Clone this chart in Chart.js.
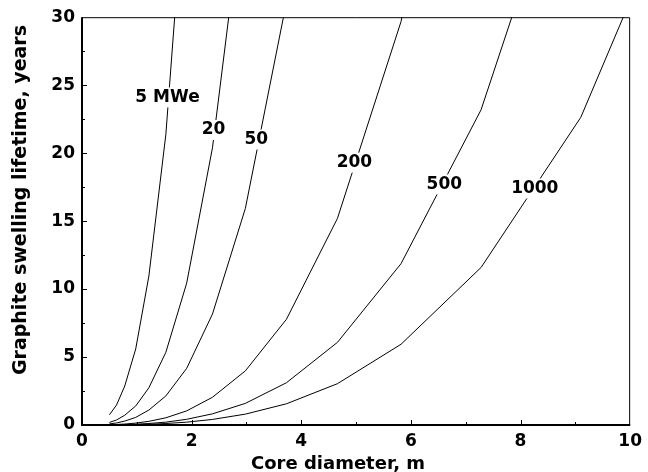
<!DOCTYPE html>
<html>
<head>
<meta charset="utf-8">
<script src="https://cdn.jsdelivr.net/npm/chart.js@4.4.0/dist/chart.umd.min.js"></script>
<style>
  html, body { margin: 0; padding: 0; background: #fff; }
  #wrap { width: 648px; height: 472px; }
</style>
</head>
<body>
<div id="wrap"><canvas id="chart"></canvas></div>
<script>
// core diameter grid (m), shared by all curves
const diameters = [0.5, 0.63, 0.78, 0.98, 1.22, 1.53, 1.91, 2.38, 2.98, 3.73, 4.66, 5.82, 7.28, 9.10, 11.37];

// graphite swelling lifetime (years)
const life5 = [0.75, 1.47, 2.87, 5.60, 10.96, 21.39, 41.75];
const life20 = [0.19, 0.37, 0.72, 1.40, 2.74, 5.35, 10.44, 20.39, 39.82];
const life50 = [0.08, 0.15, 0.29, 0.56, 1.10, 2.14, 4.17, 8.16, 15.93, 31.12];
const life200 = [0.02, 0.04, 0.07, 0.14, 0.27, 0.53, 1.04, 2.04, 3.98, 7.78, 15.20, 29.68, 57.97];
const life500 = [0.01, 0.01, 0.03, 0.06, 0.11, 0.21, 0.42, 0.82, 1.59, 3.11, 6.08, 11.87, 23.19, 45.29];
const life1000 = [0.00, 0.01, 0.01, 0.03, 0.05, 0.11, 0.21, 0.41, 0.80, 1.56, 3.04, 5.94, 11.59, 22.64, 44.24];

const curveLabels = ['5 MWe', '20', '50', '200', '500', '1000'];
// where each curve label sits (data coords)
const labelX = [1.56, 2.40, 3.18, 4.97, 6.61, 8.26];
const labelY = [24.1, 21.7, 21.0, 19.3, 17.7, 17.4];

const xTicks = [0, 2, 4, 6, 8, 10];
const yTicks = [0, 5, 10, 15, 20, 25, 30];

const xTitle = 'Core diameter, m';
const yTitle = 'Graphite swelling lifetime, years';

const series = [life5, life20, life50, life200, life500, life1000];

const datasets = series.map((ys, i) => ({
    label: curveLabels[i],
    data: ys.map((y, j) => ({ x: diameters[j], y })),
    borderColor: '#000',
    borderWidth: 1,
    pointRadius: 0,
    tension: 0,
    fill: false
}));

const FONT = "'DejaVu Sans', Arial, sans-serif";

// frame, inside ticks, axis titles and curve labels
const decor = {
    id: 'decor',
    afterDatasetsDraw(chart) {
        const { ctx, chartArea: a, scales: { x, y } } = chart;
        ctx.save();

        // curve labels with white background
        ctx.font = "bold 17px " + FONT;
        ctx.textAlign = 'center';
        ctx.textBaseline = 'middle';
        curveLabels.forEach((t, i) => {
            const px = x.getPixelForValue(labelX[i]);
            const py = y.getPixelForValue(labelY[i]);
            const w = ctx.measureText(t).width;
            ctx.fillStyle = '#fff';
            ctx.fillRect(px - w / 2 - 2, py - 10, w + 4, 20);
            ctx.fillStyle = '#000';
            ctx.fillText(t, px, py);
        });

        // axis titles (sit a little off-centre in the original)
        ctx.font = "bold 18px " + FONT;
        ctx.fillText(xTitle, 338, 464);
        ctx.save();
        ctx.translate(21, 200);
        ctx.rotate(-Math.PI / 2);
        ctx.font = "bold 19px " + FONT;
        ctx.fillText(yTitle, 0, 0);
        ctx.restore();

        // frame
        ctx.strokeStyle = '#000';
        ctx.lineWidth = 1;
        ctx.beginPath();
        ctx.moveTo(a.left, a.top + 0.5);
        ctx.lineTo(a.right - 0.5, a.top + 0.5);
        ctx.lineTo(a.right - 0.5, a.bottom);
        ctx.stroke();
        ctx.lineWidth = 2;
        ctx.beginPath();
        ctx.moveTo(a.left, a.top);
        ctx.lineTo(a.left, a.bottom);
        ctx.lineTo(a.right, a.bottom);
        ctx.stroke();

        // inside ticks
        ctx.lineWidth = 1;
        ctx.beginPath();
        for (let v = 1; v < 10; v++) {
            const px = Math.round(x.getPixelForValue(v)) + 0.5;
            const len = v % 2 === 0 ? 5 : 3;
            ctx.moveTo(px, a.bottom);
            ctx.lineTo(px, a.bottom - len);
        }
        for (let v = 2.5; v < 30; v += 2.5) {
            const py = Math.round(y.getPixelForValue(v)) + 0.5;
            const len = v % 5 === 0 ? 5 : 3;
            ctx.moveTo(a.left, py);
            ctx.lineTo(a.left + len, py);
        }
        ctx.stroke();
        ctx.restore();
    }
};

new Chart(document.getElementById('chart'), {
    type: 'line',
    data: { datasets },
    options: {
        responsive: true,
        maintainAspectRatio: false,
        animation: false,
        devicePixelRatio: 1,
        layout: { padding: { left: 0, right: 15, top: 15, bottom: 0 } },
        plugins: {
            legend: { display: false },
            tooltip: { enabled: false }
        },
        scales: {
            x: {
                type: 'linear',
                min: 0,
                max: 10,
                afterBuildTicks: (s) => { s.ticks = xTicks.map(v => ({ value: v })); },
                afterFit: (s) => { s.height = 47; },
                grid: { display: false, drawTicks: false },
                border: { display: false },
                ticks: {
                    color: '#000',
                    padding: 6,
                    font: { family: FONT, size: 17, weight: 'bold' }
                }
            },
            y: {
                min: 0,
                max: 30,
                afterBuildTicks: (s) => { s.ticks = yTicks.map(v => ({ value: v })); },
                afterFit: (s) => { s.width = 82; },
                grid: { display: false, drawTicks: false },
                border: { display: false },
                ticks: {
                    color: '#000',
                    padding: 7,
                    font: { family: FONT, size: 17, weight: 'bold' }
                }
            }
        }
    },
    plugins: [decor]
});
</script>
</body>
</html>
